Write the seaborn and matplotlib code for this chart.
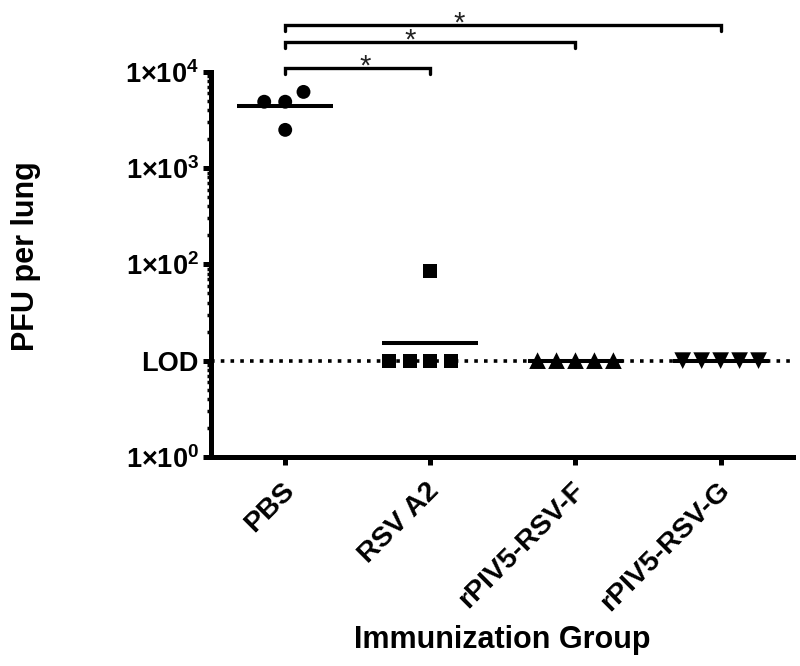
import numpy as np
import pandas as pd
import matplotlib
matplotlib.use("Agg")
import matplotlib.pyplot as plt
import matplotlib.transforms as mtransforms
from matplotlib.ticker import LogLocator, NullFormatter
import seaborn as sns

# --- data (PFU per lung) ---
groups = ["PBS", "RSV A2", "rPIV5-RSV-F", "rPIV5-RSV-G"]
pbs = [4900, 4900, 6200, 2500]
rsv_a2 = [85, 10, 10, 10, 10]
rpiv5_f = [10, 10, 10, 10, 10]
rpiv5_g = [10, 10, 10, 10, 10]
lod = 10

y_ticks = [1, 10, 100, 1000, 10000]
y_ticklabels = [r"1×10$^{\mathbf{0}}$", "LOD", r"1×10$^{\mathbf{2}}$",
                r"1×10$^{\mathbf{3}}$", r"1×10$^{\mathbf{4}}$"]

comparisons = [("PBS", "RSV A2", "*"),
               ("PBS", "rPIV5-RSV-F", "*"),
               ("PBS", "rPIV5-RSV-G", "*")]

values = [pbs, rsv_a2, rpiv5_f, rpiv5_g]
df = pd.DataFrame({
    "group": np.repeat(groups, [len(v) for v in values]),
    "pfu": np.concatenate(values).astype(float),
})

# marker, diameter (pt), invisible edge (pt) -> controls swarm spacing
marker_style = {
    "PBS": ("o", 10.0, 4.4),
    "RSV A2": ("s", 10.0, 4.1),
    "rPIV5-RSV-F": ("^", 12.0, 1.0),
    "rPIV5-RSV-G": ("v", 12.0, 1.0),
}

sns.set_style("ticks")
plt.rcParams["font.family"] = ["Liberation Sans", "DejaVu Sans"]
plt.rcParams["font.weight"] = "bold"
plt.rcParams["mathtext.fontset"] = "custom"
plt.rcParams["mathtext.rm"] = "Liberation Sans:bold"
plt.rcParams["mathtext.bf"] = "Liberation Sans:bold"
for key in ["text.color", "axes.edgecolor", "axes.labelcolor",
            "xtick.color", "ytick.color"]:
    plt.rcParams[key] = "black"

fig = plt.figure(figsize=(8, 6.66), dpi=100)
ax = fig.add_axes([0.264, 0.314, 0.7275, 0.578])
ax.set_yscale("log")

for g in groups:
    m, size, edge = marker_style[g]
    sns.swarmplot(data=df[df["group"] == g], x="group", y="pfu", order=groups,
                  marker=m, size=size, linewidth=edge, edgecolor="none",
                  color="black", ax=ax, zorder=3)

# geometric mean lines
gmeans = df.groupby("group")["pfu"].apply(lambda v: np.exp(np.log(v).mean())).reindex(groups)
xpos = np.arange(len(groups))
ax.hlines(gmeans.values, xpos - 0.33, xpos + 0.33, color="black", lw=2.9, zorder=2)

# limit of detection
ax.axhline(lod, color="black", lw=2.6, linestyle=(0, (1, 1.7)), zorder=1)

ax.set_xlim(-0.51, 3.5)
ax.set_ylim(1, 10000)
ax.set_yticks(y_ticks, y_ticklabels)
ax.yaxis.set_minor_locator(LogLocator(base=10, subs=np.arange(2, 10)))
ax.yaxis.set_minor_formatter(NullFormatter())
ax.set_xticks(xpos, groups, rotation=45, ha="right", rotation_mode="anchor")

sns.despine(ax=ax)
for side in ["left", "bottom"]:
    ax.spines[side].set_linewidth(3.6)
ax.tick_params(which="major", length=5.8, width=3.6, pad=3)
ax.tick_params(axis="y", which="major", labelsize=19.5)
ax.tick_params(axis="x", which="major", labelsize=20.5, pad=9)
ax.tick_params(axis="y", which="minor", length=3.2, width=2.5)
ax.tick_params(axis="x", which="minor", length=0)
shift = mtransforms.ScaledTranslation(-3 / 72, 0, fig.dpi_scale_trans)
for lbl in ax.get_xticklabels():
    lbl.set_transform(lbl.get_transform() + shift)

ax.set_xlabel("Immunization Group", fontsize=22, fontweight="bold", va="baseline")
ax.xaxis.set_label_coords(0.5, -0.496)
ax.set_ylabel("PFU per lung", fontsize=22, fontweight="bold", va="center")
ax.yaxis.set_label_coords(-0.318, 0.522)

# significance brackets above the axes
trans = mtransforms.blended_transform_factory(ax.transData, ax.transAxes)
levels = [1.010, 1.078, 1.122]
star_frac = [0.55, 0.43, 0.40]
drop = 0.016
for (a, b, lab), y, f in zip(comparisons, levels, star_frac):
    x1, x2 = groups.index(a), groups.index(b)
    ax.plot([x1, x1, x2, x2], [y - drop, y, y, y - drop], transform=trans,
            color="black", lw=2.4, clip_on=False, solid_joinstyle="miter")
    ax.annotate(lab, xy=(x1 + f * (x2 - x1), y), xycoords=trans,
                xytext=(0, -5), textcoords="offset points",
                ha="center", va="baseline", fontsize=21, fontweight="normal",
                color="#222222", annotation_clip=False)

fig.savefig("out.png", dpi=100)
